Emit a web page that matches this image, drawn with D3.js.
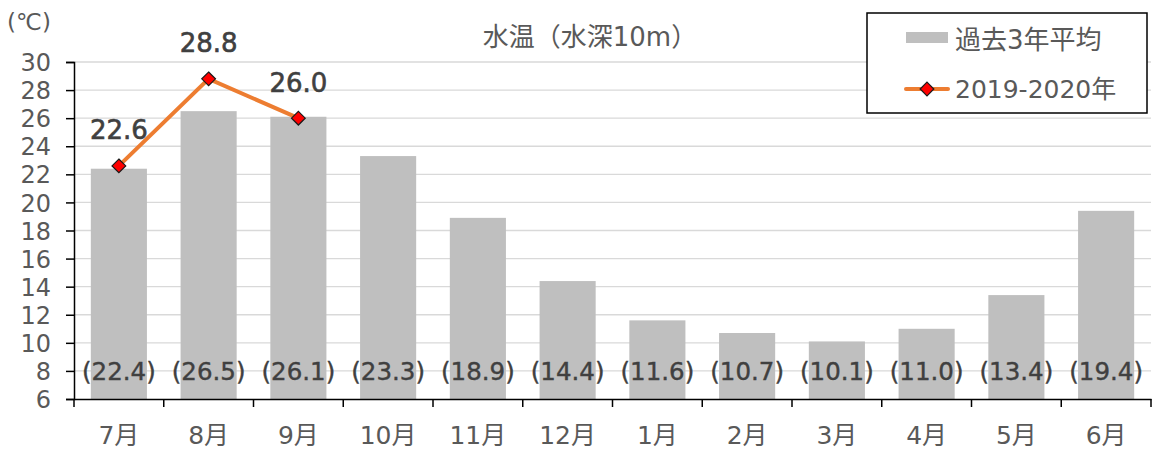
<!DOCTYPE html>
<html>
<head>
<meta charset="utf-8">
<script src="https://cdn.jsdelivr.net/npm/d3@7"></script>
<style>
  body { margin: 0; background: #fff; }
  svg { font-family: "DejaVu Sans", "Noto Sans CJK JP", sans-serif; }
</style>
</head>
<body>
<svg id="chart" width="1153" height="450"></svg>
<script>
var months = ["7月", "8月", "9月", "10月", "11月", "12月", "1月", "2月", "3月", "4月", "5月", "6月"];
var avg3yr = [22.4, 26.5, 26.1, 23.3, 18.9, 14.4, 11.6, 10.7, 10.1, 11.0, 13.4, 19.4];
var y2019 = [22.6, 28.8, 26.0];
var yTicks = [6, 8, 10, 12, 14, 16, 18, 20, 22, 24, 26, 28, 30];

var svg = d3.select("#chart"),
    plotL = 74, plotR = 1151, plotT = 62, plotB = 399;

var x = d3.scaleBand().domain(months).range([plotL, plotR]).paddingInner(0.375).paddingOuter(0.1875);
var y = d3.scaleLinear().domain([6, 30]).range([plotB, plotT]);

// gridlines
svg.append("g").selectAll("line").data(yTicks.slice(1)).enter().append("line")
  .attr("x1", plotL).attr("x2", plotR)
  .attr("y1", function(d) { return y(d); }).attr("y2", function(d) { return y(d); })
  .attr("stroke", "#d9d9d9").attr("stroke-width", 1.3);

// bars
svg.append("g").selectAll("rect").data(avg3yr).enter().append("rect")
  .attr("x", function(d, i) { return x(months[i]); })
  .attr("width", x.bandwidth())
  .attr("y", function(d) { return y(d); })
  .attr("height", function(d) { return plotB - y(d); })
  .attr("fill", "#bfbfbf");

// bar value labels
svg.append("g").selectAll("text").data(avg3yr).enter().append("text")
  .attr("x", function(d, i) { return x(months[i]) + x.bandwidth() / 2; })
  .attr("y", y(8))
  .attr("dy", "0.36em")
  .attr("text-anchor", "middle")
  .attr("font-size", 24.5)
  .attr("fill", "#404040").attr("stroke", "#404040").attr("stroke-width", 0.4)
  .text(function(d) { return "(" + d.toFixed(1) + ")"; });

// y axis
var yAxis = svg.append("g").attr("transform", "translate(" + plotL + ",0)")
  .call(d3.axisLeft(y).tickValues(yTicks).tickSize(8).tickPadding(15));
yAxis.attr("font-family", null);
yAxis.select(".domain").attr("stroke", "#000").attr("stroke-width", 1.5);
yAxis.selectAll(".tick line").attr("stroke", "#000").attr("stroke-width", 1.5);
yAxis.selectAll("text").attr("font-size", 24).attr("fill", "#595959").attr("dy", "0.36em");

// x axis
var xAxis = svg.append("g").attr("transform", "translate(0," + plotB + ")")
  .call(d3.axisBottom(x).tickSize(0).tickPadding(27).tickSizeOuter(0));
xAxis.attr("font-family", null);
xAxis.select(".domain").attr("stroke", "#000").attr("stroke-width", 1.5);
xAxis.selectAll("text").attr("font-size", 25).attr("fill", "#595959");
var step = x.step();
xAxis.selectAll(".sep").data(d3.range(months.length + 1)).enter().append("line")
  .attr("x1", function(i) { return plotL + i * step; })
  .attr("x2", function(i) { return plotL + i * step; })
  .attr("y1", 0).attr("y2", 8)
  .attr("stroke", "#000").attr("stroke-width", 1.5);

// line series
var line = d3.line()
  .x(function(d, i) { return x(months[i]) + x.bandwidth() / 2; })
  .y(function(d) { return y(d); });
svg.append("path").datum(y2019).attr("d", line)
  .attr("fill", "none").attr("stroke", "#ed7d31").attr("stroke-width", 4);

var sym = d3.symbol().type(d3.symbolDiamond2).size(120);
svg.append("g").selectAll("path").data(y2019).enter().append("path")
  .attr("d", sym)
  .attr("transform", function(d, i) { return "translate(" + (x(months[i]) + x.bandwidth() / 2) + "," + y(d) + ")"; })
  .attr("fill", "#ff0000").attr("stroke", "#1a1a1a").attr("stroke-width", 1.2);

svg.append("g").selectAll("text").data(y2019).enter().append("text")
  .attr("x", function(d, i) { return x(months[i]) + x.bandwidth() / 2; })
  .attr("y", function(d) { return y(d) - 36; })
  .attr("dy", "0.36em")
  .attr("text-anchor", "middle")
  .attr("font-size", 26)
  .attr("fill", "#404040").attr("stroke", "#404040").attr("stroke-width", 0.6)
  .text(function(d) { return d.toFixed(1); });

// title & unit
svg.append("text").attr("x", 590).attr("y", 37).attr("dy", "0.36em")
  .attr("text-anchor", "middle").attr("font-size", 26).attr("fill", "#595959")
  .text("水温（水深10m）");
svg.append("text").attr("x", 29).attr("y", 22).attr("dy", "0.36em")
  .attr("text-anchor", "middle").attr("font-size", 23).attr("fill", "#595959")
  .text("(℃)");

// legend
var lg = svg.append("g");
lg.append("rect").attr("x", 867).attr("y", 13).attr("width", 280).attr("height", 100)
  .attr("fill", "#fff").attr("stroke", "#000").attr("stroke-width", 1.5);
lg.append("rect").attr("x", 906).attr("y", 32).attr("width", 42).attr("height", 11).attr("fill", "#bfbfbf");
lg.append("text").attr("x", 955).attr("y", 40).attr("dy", "0.36em")
  .attr("font-size", 26).attr("fill", "#595959").text("過去3年平均");
lg.append("line").attr("x1", 906).attr("x2", 948).attr("y1", 89).attr("y2", 89)
  .attr("stroke", "#ed7d31").attr("stroke-width", 4).attr("stroke-linecap", "round");
lg.append("path").attr("d", sym).attr("transform", "translate(927,89)")
  .attr("fill", "#ff0000").attr("stroke", "#1a1a1a").attr("stroke-width", 1.2);
lg.append("text").attr("x", 955).attr("y", 89).attr("dy", "0.36em")
  .attr("font-size", 25).attr("fill", "#595959").text("2019-2020年");
</script>
</body>
</html>
